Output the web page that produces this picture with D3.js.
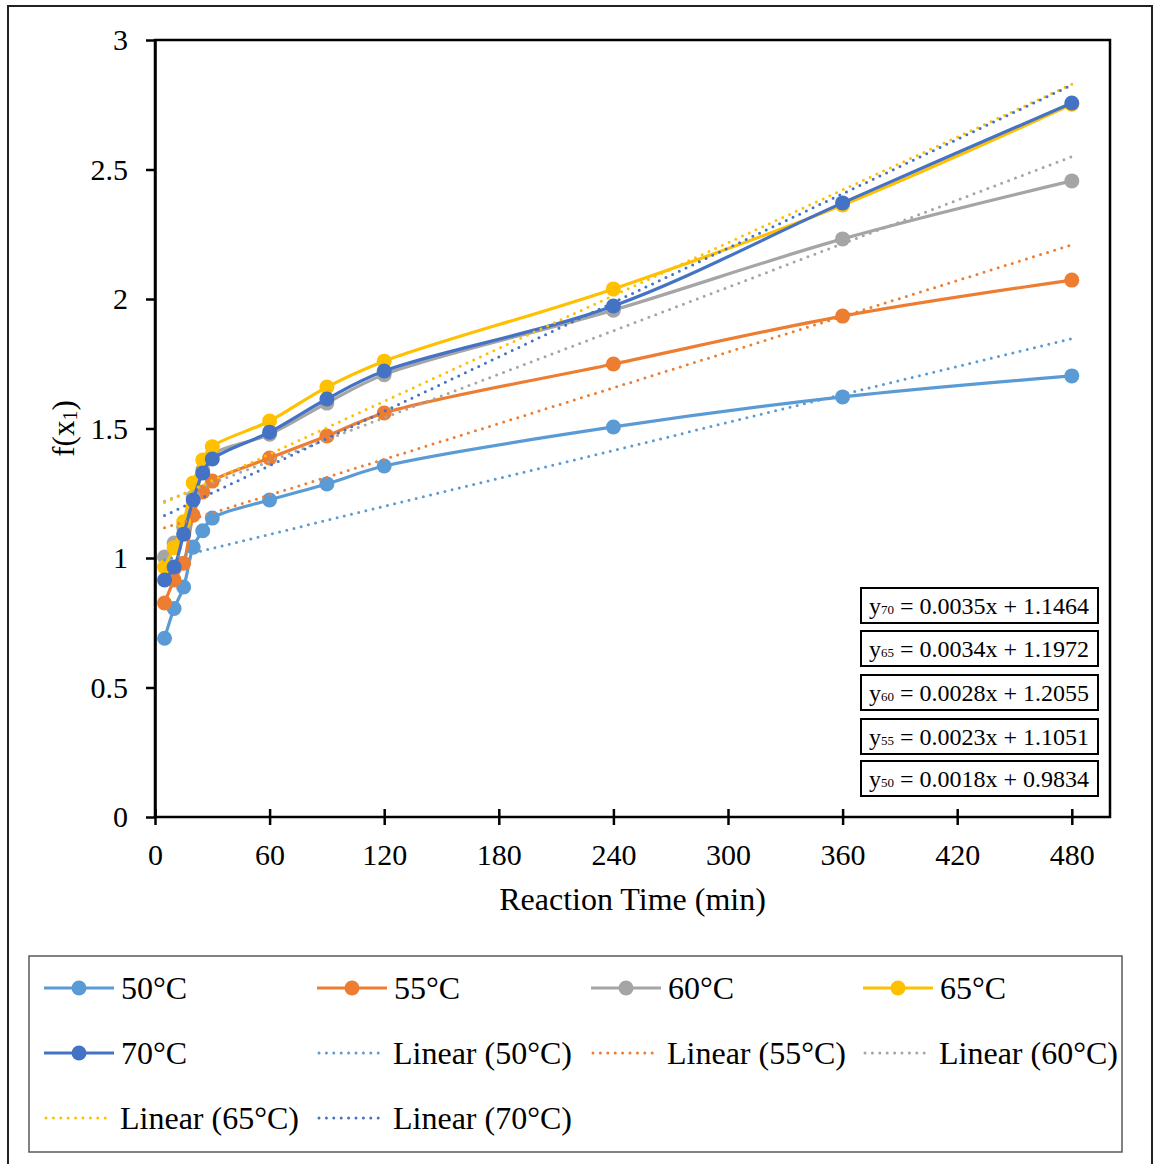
<!DOCTYPE html>
<html>
<head>
<meta charset="utf-8">
<script src="https://cdn.jsdelivr.net/npm/d3@7"></script>
<style>
  body { margin: 0; background: #fff; }
  text { font-family: "Liberation Serif", "Times New Roman", serif; fill: #000; }
</style>
</head>
<body>
<svg width="1158" height="1164"></svg>
<script>
// reaction times (min)
const times = [5, 10, 15, 20, 25, 30, 60, 90, 120, 240, 360, 480];

// f(x1) per temperature
const temps = ['50', '55', '60', '65', '70'];
const v50 = [0.69, 0.805, 0.888, 1.042, 1.105, 1.154, 1.224, 1.286, 1.355, 1.506, 1.622, 1.703];
const v55 = [0.826, 0.915, 0.98, 1.165, 1.255, 1.297, 1.386, 1.471, 1.56, 1.749, 1.934, 2.073];
const v60 = [1.004, 1.058, 1.12, 1.235, 1.34, 1.40, 1.478, 1.598, 1.708, 1.957, 2.232, 2.456];
const v65 = [0.965, 1.04, 1.14, 1.29, 1.378, 1.43, 1.529, 1.66, 1.76, 2.039, 2.363, 2.752];
const v70 = [0.915, 0.965, 1.092, 1.224, 1.328, 1.382, 1.486, 1.614, 1.722, 1.973, 2.371, 2.757];
const values = [v50, v55, v60, v65, v70];

// linear trendline coefficients (from the equation labels)
const slopes = [0.0018, 0.0023, 0.0028, 0.0034, 0.0035];
const intercepts = [0.9834, 1.1051, 1.2055, 1.1972, 1.1464];

const colors = ['#5B9BD5', '#ED7D31', '#A5A5A5', '#FFC000', '#4472C4'];

const xTicks = [0, 60, 120, 180, 240, 300, 360, 420, 480];
const yTicks = [0, 0.5, 1, 1.5, 2, 2.5, 3];

const svg = d3.select('svg');

// outer frame
svg.append('rect')
    .attr('x', 8).attr('y', 6)
    .attr('width', 1144).attr('height', 1160)
    .attr('fill', 'none')
    .attr('stroke', '#222')
    .attr('stroke-width', 2);

const x = d3.scaleLinear().domain([0, 500]).range([155, 1110]);
const y = d3.scaleLinear().domain([0, 3]).range([817, 40]);

// plot frame
svg.append('rect')
    .attr('x', x(0)).attr('y', y(3))
    .attr('width', x(500) - x(0)).attr('height', y(0) - y(3))
    .attr('fill', 'none')
    .attr('stroke', '#000')
    .attr('stroke-width', 2.5);

const yAxis = svg.append('g')
    .attr('transform', `translate(${x(0)},0)`)
    .call(d3.axisLeft(y).tickValues(yTicks).tickFormat(d3.format('~g'))
        .tickSizeInner(9).tickSizeOuter(0).tickPadding(18));
yAxis.select('.domain').attr('stroke', '#000').attr('stroke-width', 2.5);
yAxis.selectAll('.tick line').attr('x1', 0).attr('stroke', '#000').attr('stroke-width', 2.5);
yAxis.selectAll('.tick text')
    .style('font-family', '"Liberation Serif", serif')
    .style('font-size', '30px')
    .attr('fill', '#000');

const xAxis = svg.append('g')
    .attr('transform', `translate(0,${y(0)})`)
    .call(d3.axisBottom(x).tickValues(xTicks)
        .tickSizeInner(8).tickSizeOuter(0).tickPadding(19));
xAxis.select('.domain').remove();
xAxis.selectAll('.tick line').attr('y1', -8).attr('stroke', '#000').attr('stroke-width', 2.5);
xAxis.selectAll('.tick text')
    .style('font-family', '"Liberation Serif", serif')
    .style('font-size', '30px')
    .attr('fill', '#000');

// axis titles
svg.append('text')
    .attr('x', x(250)).attr('y', 910)
    .attr('text-anchor', 'middle')
    .style('font-size', '32px')
    .text('Reaction Time (min)');

const yTitle = svg.append('text')
    .attr('transform', `translate(74,${y(1.5)}) rotate(-90)`)
    .attr('text-anchor', 'middle')
    .style('font-size', '31px');
yTitle.append('tspan').text('f(x');
yTitle.append('tspan').attr('font-size', '20px').attr('dy', 3).text('1');
yTitle.append('tspan').attr('dy', -3).text(')');

// series
const line = d3.line()
    .x((d, i) => x(times[i]))
    .y(d => y(d))
    .curve(d3.curveCatmullRom.alpha(0.5));

const seriesG = svg.append('g');
values.forEach((vals, k) => {
    seriesG.append('path')
        .attr('d', line(vals))
        .attr('fill', 'none')
        .attr('stroke', colors[k])
        .attr('stroke-width', 3.2);
    seriesG.selectAll(null)
        .data(vals)
        .enter()
        .append('circle')
            .attr('cx', (d, i) => x(times[i]))
            .attr('cy', d => y(d))
            .attr('r', 7.5)
            .attr('fill', colors[k]);
});

// trendlines
const tx = d3.extent(times);
slopes.forEach((m, k) => {
    svg.append('line')
        .attr('x1', x(tx[0])).attr('y1', y(m * tx[0] + intercepts[k]))
        .attr('x2', x(tx[1])).attr('y2', y(m * tx[1] + intercepts[k]))
        .attr('stroke', colors[k])
        .attr('stroke-width', 3)
        .attr('stroke-linecap', 'round')
        .attr('stroke-dasharray', '0 7.4');
});

// equation boxes
const eqOrder = [4, 3, 2, 1, 0];
const eqY = [588, 631, 675, 719, 761];
eqOrder.forEach((k, j) => {
    const g = svg.append('g').attr('transform', `translate(861,${eqY[j]})`);
    g.append('rect')
        .attr('width', 237).attr('height', 35)
        .attr('fill', '#fff')
        .attr('stroke', '#000')
        .attr('stroke-width', 2);
    const t = g.append('text')
        .attr('x', 8).attr('y', 26)
        .style('font-size', '24px');
    t.append('tspan').text('y');
    t.append('tspan').attr('font-size', '13px').text(temps[k]);
    t.append('tspan').text(` = ${slopes[k].toFixed(4)}x + ${intercepts[k].toFixed(4)}`);
});

// legend
svg.append('rect')
    .attr('x', 29).attr('y', 956)
    .attr('width', 1093).attr('height', 196)
    .attr('fill', 'none')
    .attr('stroke', '#595959')
    .attr('stroke-width', 1.5);

const legendItems = temps.map((t, k) => ({ label: `${t}°C`, k: k, trend: false }))
    .concat(temps.map((t, k) => ({ label: `Linear (${t}°C)`, k: k, trend: true })));
const colX = [44, 317, 591, 863];
const rowY = [988, 1053, 1118];

legendItems.forEach((d, i) => {
    const lx = colX[i % 4];
    const ly = rowY[Math.floor(i / 4)];
    const g = svg.append('g').attr('transform', `translate(${lx},${ly})`);
    if (d.trend) {
        g.append('line')
            .attr('x1', 2).attr('x2', 66)
            .attr('stroke', colors[d.k])
            .attr('stroke-width', 3)
            .attr('stroke-linecap', 'round')
            .attr('stroke-dasharray', '0 7.4');
    } else {
        g.append('line')
            .attr('x1', 0).attr('x2', 70)
            .attr('stroke', colors[d.k])
            .attr('stroke-width', 3.2);
        g.append('circle')
            .attr('cx', 35).attr('r', 7.5)
            .attr('fill', colors[d.k]);
    }
    g.append('text')
        .attr('x', d.trend ? 76 : 77).attr('y', 11)
        .style('font-size', '32px')
        .text(d.label);
});
</script>
</body>
</html>
